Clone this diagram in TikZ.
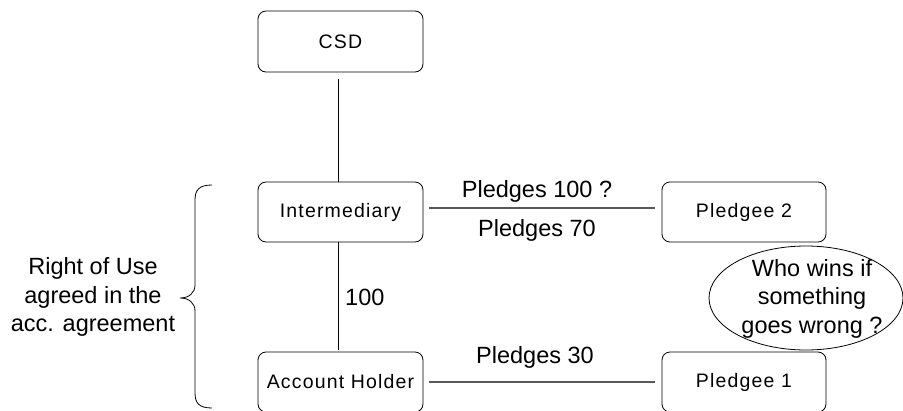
\documentclass[tikz,border=0pt]{standalone}
\usepackage{fontspec}
\setmainfont{Liberation Sans}
\newfontfamily\boxfont[LetterSpace=6]{Liberation Sans}
\usetikzlibrary{shapes.geometric}
\begin{document}
\begin{tikzpicture}[x=1pt,y=-1pt,
  boxnode/.style={draw, rounded corners=8pt, line width=0.8pt, inner sep=0pt,
    minimum width=165pt, minimum height=60pt,
    font=\boxfont\fontsize{19.5}{22}\selectfont},
  conn/.style={line width=0.8pt},
  hconn/.style={line width=1.1pt, black!65},
  lbl/.style={inner sep=0pt, font=\fontsize{23.5}{28.5}\selectfont},
  bigtext/.style={inner sep=0pt, align=center, font=\fontsize{23.5}{28.5}\selectfont}]
\useasboundingbox (0,0) rectangle (903,410);
\fill[white] (0,0) rectangle (903,410);
% boxes
\node[boxnode, minimum height=61pt] (csd) at (340.5,41.5) {CSD};
\node[boxnode] (inter) at (340.5,212) {Intermediary};
\node[boxnode, minimum width=164pt] (pl2) at (744,212) {Pledgee 2};
\node[boxnode] (ah) at (340.5,382) {Account Holder};
\node[boxnode, minimum width=164pt] (pl1) at (744,382) {Pledgee 1};
% helper coordinates for line positions
\coordinate (vx) at (338,0);
\coordinate (hy1) at (0,208);
% connectors
\draw[conn, shorten <=7pt] (csd.south -| vx) -- (inter.north -| vx);
\draw[conn, shorten >=2pt] (inter.south -| vx) -- (ah.north -| vx);
\draw[hconn, shorten <=6pt, shorten >=7pt] (inter.east |- hy1) -- (pl2.west |- hy1);
\draw[hconn, shorten <=6pt, shorten >=7pt] (ah.east) -- (pl1.west);
% labels
\node[lbl] (l100q) at (537,191) {Pledges 100 ?};
\node[lbl] (l70) at (537,230) {Pledges 70};
\node[lbl, anchor=west] (l100) at (345,297) {100};
\node[lbl] (l30) at (535,357) {Pledges 30};
% ellipse
\node[draw, ellipse, line width=0.8pt, minimum width=194pt, minimum height=104pt, inner sep=0pt] (who) at (806,298) {};
\node[bigtext] (whotext) at (812,298.5) {Who wins if\\something\\goes wrong ?};
% left text and brace
\node[bigtext] (rou) at (93,297) {Right of Use\\agreed in the\\acc. agreement};
\draw[line width=0.8pt] (212,185) .. controls (199,185) and (195,190) .. (195,200)
  -- (195,285) .. controls (195,293) and (189,298) .. (180,298)
  .. controls (189,298) and (195,303) .. (195,311)
  -- (195,393) .. controls (195,403) and (199,408) .. (212,408);
\end{tikzpicture}
\end{document}
